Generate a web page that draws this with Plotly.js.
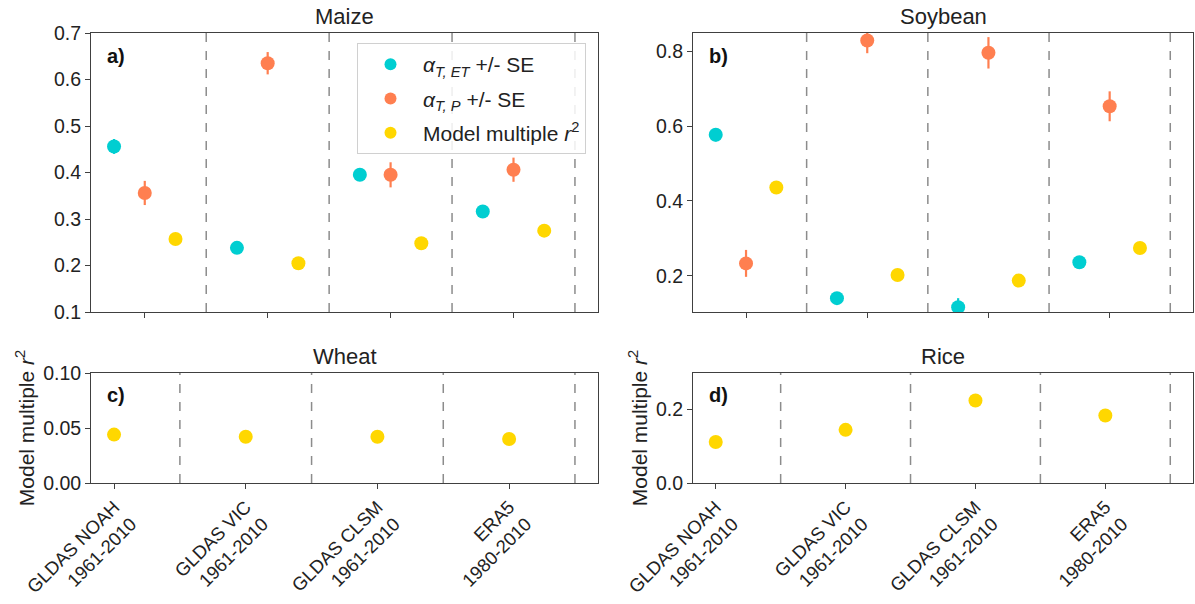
<!DOCTYPE html>
<html>
<head>
<meta charset="utf-8">
<script src="https://cdn.plot.ly/plotly-3.0.1.min.js"></script>
<style>html,body{margin:0;padding:0;background:#fff;}#chart{width:1195px;height:604px;}</style>
</head>
<body>
<div id="chart"></div>
<script>
// ---- Data ----
const categories = ["GLDAS NOAH<br>1961-2010", "GLDAS VIC<br>1961-2010", "GLDAS CLSM<br>1961-2010", "ERA5<br>1980-2010"];
const seriesNames = ["<i>α</i><sub><i>T, ET</i></sub> +/- SE", "<i>α</i><sub><i>T, P</i></sub> +/- SE", "Model multiple <i>r</i><sup>2</sup>"];

const maizeAlphaET   = [0.456, 0.238, 0.395, 0.316];
const maizeAlphaETse = [0.016, 0.012, 0.012, 0.010];
const maizeAlphaP    = [0.356, 0.635, 0.395, 0.406];
const maizeAlphaPse  = [0.026, 0.024, 0.027, 0.026];
const maizeR2        = [0.257, 0.205, 0.248, 0.275];

const soyAlphaET   = [0.577, 0.140, 0.116, 0.236];
const soyAlphaETse = [0.018, 0.012, 0.024, 0.010];
const soyAlphaP    = [0.233, 0.829, 0.796, 0.653];
const soyAlphaPse  = [0.036, 0.034, 0.042, 0.040];
const soyR2        = [0.436, 0.202, 0.187, 0.274];

const wheatR2 = [0.044, 0.042, 0.042, 0.040];
const riceR2  = [0.112, 0.145, 0.225, 0.184];

const colors = ["darkturquoise", "coral", "gold"];
const FONT = "Liberation Sans, Arial, Helvetica, sans-serif";

const idx = categories.map((_, i) => i);
const offsets = [-0.25, 0, 0.25];

function errTrace(vals, se, s, xa, ya, showLegend) {
  return {
    type: "scatter", mode: "markers",
    x: idx.map(i => i + offsets[s]), y: vals,
    xaxis: xa, yaxis: ya,
    name: seriesNames[s], showlegend: showLegend, legendgroup: "g" + s,
    marker: {color: colors[s], size: 14},
    error_y: se ? {type: "data", array: se, visible: true, color: colors[s], thickness: 2.2, width: 0} : {visible: false},
    hoverinfo: "x+y"
  };
}
function r2Trace(vals, xa, ya) {
  return {
    type: "scatter", mode: "markers", x: idx, y: vals, xaxis: xa, yaxis: ya,
    showlegend: false, marker: {color: colors[2], size: 14}
  };
}

const traces = [
  errTrace(maizeAlphaET, maizeAlphaETse, 0, "x", "y", true),
  errTrace(maizeAlphaP, maizeAlphaPse, 1, "x", "y", true),
  errTrace(maizeR2, null, 2, "x", "y", true),
  errTrace(soyAlphaET, soyAlphaETse, 0, "x2", "y2", false),
  errTrace(soyAlphaP, soyAlphaPse, 1, "x2", "y2", false),
  errTrace(soyR2, null, 2, "x2", "y2", false),
  r2Trace(wheatR2, "x3", "y3"),
  r2Trace(riceR2, "x4", "y4")
];

const W = 1195, H = 604;
const px = (a, b) => [a / W, b / W];
const py = (top, bot) => [1 - bot / H, 1 - top / H];

const lineC = "#404040";
function xaxis(dom, range, labels, anchor) {
  return {
    domain: dom, range: range, anchor: anchor,
    tickmode: "array", tickvals: idx, ticktext: categories,
    showticklabels: labels, tickangle: -45,
    ticks: "outside", ticklen: 5, tickcolor: lineC, tickwidth: 1,
    showline: true, linecolor: lineC, linewidth: 1, mirror: true,
    showgrid: false, zeroline: false,
    tickfont: {family: FONT, size: 18.5, color: "#222"}
  };
}
function yaxis(dom, range, dtick, fmt, anchor, title) {
  const a = {
    domain: dom, range: range, anchor: anchor, dtick: dtick, tick0: 0, tickformat: fmt,
    ticks: "outside", ticklen: 5, tickcolor: lineC, tickwidth: 1,
    showline: true, linecolor: lineC, linewidth: 1, mirror: true,
    showgrid: false, zeroline: false,
    tickfont: {family: FONT, size: 19.5, color: "#222"}
  };
  if (title) a.title = {text: title, font: {family: FONT, size: 21, color: "#222"}, standoff: 2};
  return a;
}

const dxA = px(91, 598), dxB = px(693, 1193);
const dyTop = py(33, 312), dyBot = py(373, 483);
const rangeWide = [-0.4375, 3.6875], rangeNarrow = [-0.175, 3.675];
const r2Title = "Model multiple <i>r</i><sup>2</sup>";

const shapes = [];
["x", "x2", "x3", "x4"].forEach((xa, k) => {
  const ya = ["y", "y2", "y3", "y4"][k];
  idx.forEach(i => {
    shapes.push({type: "line", xref: xa, yref: ya + " domain", x0: i + 0.5, x1: i + 0.5, y0: 0, y1: 1,
      line: {color: "#8c8c8c", width: 1.5, dash: "dash"}, layer: "below"});
  });
});

const titles = [["Maize", "x", "y"], ["Soybean", "x2", "y2"], ["Wheat", "x3", "y3"], ["Rice", "x4", "y4"]];
const letters = [["a)", "x", "y", 0.965], ["b)", "x2", "y2", 0.965], ["c)", "x3", "y3", 0.92], ["d)", "x4", "y4", 0.92]];
const annotations = [];
titles.forEach(t => annotations.push({text: t[0], xref: t[1] + " domain", yref: t[2] + " domain", x: 0.5, y: 1, yshift: 2,
  xanchor: "center", yanchor: "bottom", showarrow: false, font: {family: FONT, size: 22, color: "#222"}}));
letters.forEach(t => annotations.push({text: "<b>" + t[0] + "</b>", xref: t[1] + " domain", yref: t[2] + " domain",
  x: 0.028, y: t[3], xanchor: "left", yanchor: "top", showarrow: false,
  font: {family: FONT, size: 20, color: "#111"}}));

const layout = {
  width: W, height: H,
  margin: {l: 0, r: 0, t: 0, b: 0},
  paper_bgcolor: "#fff", plot_bgcolor: "#fff",
  font: {family: FONT, size: 18, color: "#222"},
  showlegend: true,
  legend: {x: 357 / W, y: 1 - 43 / H, xanchor: "left", yanchor: "top", xref: "paper", yref: "paper",
    bgcolor: "rgba(255,255,255,0.85)", bordercolor: "#d0d0d0", borderwidth: 1,
    font: {family: FONT, size: 21, color: "#222"}, itemsizing: "constant", itemwidth: 55, tracegroupgap: 4},
  xaxis: xaxis(dxA, rangeWide, false, "y"),
  yaxis: yaxis(dyTop, [0.1, 0.7], 0.1, ".1f", "x"),
  xaxis2: xaxis(dxB, rangeWide, false, "y2"),
  yaxis2: yaxis(dyTop, [0.103, 0.849], 0.2, ".1f", "x2"),
  xaxis3: xaxis(dxA, rangeNarrow, true, "y3"),
  yaxis3: yaxis(dyBot, [0, 0.1], 0.05, ".2f", "x3", r2Title),
  xaxis4: xaxis(dxB, rangeNarrow, true, "y4"),
  yaxis4: yaxis(dyBot, [0, 0.30], 0.2, ".1f", "x4", r2Title),
  shapes: shapes, annotations: annotations
};

Plotly.newPlot("chart", traces, layout, {displayModeBar: false, staticPlot: true});
</script>
</body>
</html>
